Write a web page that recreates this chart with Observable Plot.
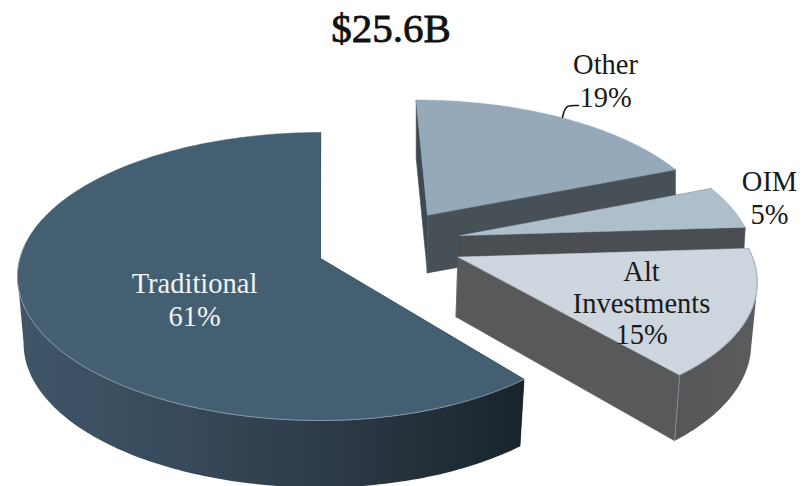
<!DOCTYPE html>
<html><head><meta charset="utf-8">
<script src="https://cdn.jsdelivr.net/npm/d3@7"></script>
<script src="https://cdn.jsdelivr.net/npm/@observablehq/plot@0.6"></script>
<style>
html,body{margin:0;padding:0;background:#fff}
#title{height:40px;width:782px;text-align:center;font:normal 41px/56px "Liberation Serif",serif;color:#111;-webkit-text-stroke:0.8px #111}
svg{display:block}
</style></head><body>
<div id="title">$25.6B</div>
<div id="chart"></div>
<script>
const sliceNames = ["Other", "OIM", "Alt Investments", "Traditional"];
const sliceValues = [19, 5, 15, 61];
const explodeX = [0.37, 0.475, 0.459, 0];
const explodeY = [0.32, 0.165, 0.01, 0];
const radiusRight = [0.98, 0.98, 0.98, 0.96];
const topColors = ["#95a9b8", "#aebfcc", "#cdd6de", "#455f72"];
const radialColors = [["#3d4a55", "#474f57"], ["#4a4e53", "#4a4e53"], ["#58595b", "#58595b"], ["#1a2730", "#1a2730"]];
const wallStops = [
  ["#474f57", "#474f57"],
  ["#4a4e53", "#4a4e53"],
  ["#555658", "#5b5c5e"],
  ["#3f5669", "#37495a", "#2b3843", "#18242c"]
];
const edgeColors = [null, null, "#8d9ba7", "#8fa3b3"];
const depthNear = [58, 58, 60, 67];
const shrink = [1, 0.992, 0.986, 0.98];
const labelLines = [
  {t: "Traditional", x: 194, y: 283, c: "#f2f4f6"},
  {t: "61%", x: 194, y: 316, c: "#f2f4f6"},
  {t: "Other", x: 605, y: 64, c: "#1a1a1a"},
  {t: "19%", x: 605, y: 97, c: "#1a1a1a"},
  {t: "OIM", x: 769, y: 181, c: "#1a1a1a"},
  {t: "5%", x: 769, y: 214, c: "#1a1a1a"},
  {t: "Alt", x: 641, y: 271, c: "#1a1a1a"},
  {t: "Investments", x: 641, y: 303, c: "#1a1a1a"},
  {t: "15%", x: 641, y: 334, c: "#1a1a1a"}
];
const leader = [{x: 562, y: 117}, {x: 564, y: 110}, {x: 567, y: 106}, {x: 578, y: 105}];

// Perspective view of the tilted disc
const CX = 320, CY = 258, RX = 300.6, RY = 141.75, K = 0.125;
function project(wx, wy) {
  const s = 1 / (1 + K * wy);
  return [CX + RX * wx * s, CY - RY * wy * s];
}
function foot(p, i) {
  const depth = i === 3 ? depthNear[3] : depthNear[i] + Math.max(0, p[1] - CY) * 0.05;
  return [CX + (p[0] - CX) * shrink[i], p[1] + depth];
}
function rim(i, deg) {
  const a = deg * Math.PI / 180;
  const sx = Math.sin(a), cy = Math.cos(a);
  const rx = sx > 0 ? radiusRight[i] : 1;
  const ry = i === 3 ? 1 : radiusRight[i];
  return project(explodeX[i] + rx * sx, explodeY[i] + ry * cy);
}

const faces = [], edges = [];
let id = 0;
function addFace(pts, fill, stroke, sw) {
  const k = id++;
  pts.forEach(p => faces.push({id: k, x: p[0], y: p[1], fill, stroke, sw}));
}
const total = d3.sum(sliceValues);
let start = 0;
sliceValues.forEach((v, i) => {
  const end = start + v / total * 360;
  const apex = project(explodeX[i], explodeY[i]);
  const a = rim(i, start), b = rim(i, end);
  const [r0, r1] = radialColors[i];
  addFace([apex, a, foot(a, i), foot(apex, i)], r0, r0, 0.6);
  addFace([apex, b, foot(b, i), foot(apex, i)], r1, r1, 0.6);
  const from = Math.max(start, 102), to = Math.min(end, 263);
  if (from < to) {
    const upper = [], lower = [];
    for (let d = from; d <= to; d += 1) {
      const p = rim(i, d);
      upper.push(p);
      lower.unshift(foot(p, i));
    }
    upper.push(rim(i, to));
    lower.unshift(foot(rim(i, to), i));
    addFace(upper.concat(lower), `url(#wall${i})`, "none", 0);
  }
  const tp = [apex];
  for (let d = start; d <= end; d += 1) tp.push(rim(i, d));
  tp.push(b);
  addFace(tp, topColors[i], topColors[i], 0.5);
  if (edgeColors[i]) {
    for (let d = Math.max(start, 30); d <= Math.min(end, 276); d += 1) {
      const p = rim(i, d);
      edges.push({id: i, x: p[0], y: p[1], c: edgeColors[i]});
    }
  }
  start = end;
});
const altEnd = (19 + 5 + 15) / 100 * 360;
const tip = rim(2, altEnd);
const edge = [tip, foot(tip, 2)].map(p => ({x: p[0], y: p[1]}));

function wallGradients() {
  const defs = d3.create("svg:defs");
  wallStops.forEach((stops, i) => {
    const g = defs.append("linearGradient").attr("id", `wall${i}`)
      .attr("x1", 0).attr("x2", 1).attr("y1", 0).attr("y2", 0);
    stops.forEach((c, j) => g.append("stop").attr("offset", j / (stops.length - 1)).attr("stop-color", c));
  });
  return defs.node();
}

const plot = Plot.plot({
  width: 812, height: 446, margin: 0,
  x: {domain: [0, 812], range: [0, 812], axis: null},
  y: {domain: [40, 486], range: [0, 446], axis: null},
  color: {type: "identity"},
  marks: [
    wallGradients,
    Plot.line(faces, {x: "x", y: "y", z: "id", fill: "fill", stroke: "stroke", strokeWidth: "sw", curve: "linear-closed", strokeLinejoin: "round"}),
    Plot.line(edges, {x: "x", y: "y", z: "id", stroke: "c", strokeWidth: 0.8}),
    Plot.line(edge, {x: "x", y: "y", stroke: "#8d9ba7", strokeWidth: 0.8}),
    Plot.line(leader, {x: "x", y: "y", stroke: "#111", strokeWidth: 1.5, curve: "catmull-rom"}),
    Plot.text(labelLines, {x: "x", y: "y", text: "t", fill: "c", fontSize: 28.5, fontFamily: "Liberation Serif", textAnchor: "middle", lineAnchor: "middle"})
  ]
});
document.getElementById("chart").append(plot);
</script>
</body></html>
